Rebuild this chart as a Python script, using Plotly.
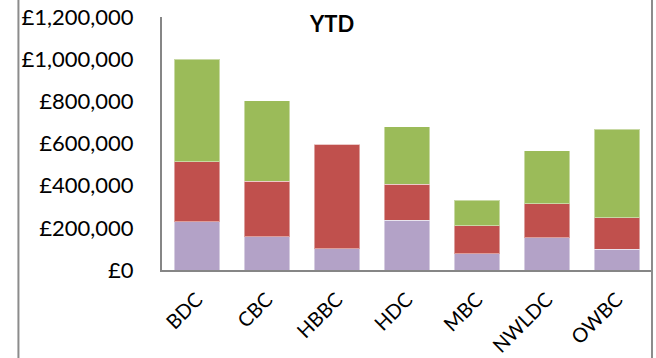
import plotly.graph_objects as go

# Regions along the category axis
categories = ["BDC", "CBC", "HBBC", "HDC", "MBC", "NWLDC", "OWBC"]

# Year-to-date amounts (GBP) for each stacked segment, bottom to top
series_1 = [229000, 158000, 100000, 237000, 77000, 152000, 98000]
series_2 = [285000, 264000, 496000, 169000, 133000, 163000, 150000]
series_3 = [485000, 380000, 0, 273000, 122000, 250000, 419000]

y_ticks = [0, 200000, 400000, 600000, 800000, 1000000, 1200000]
y_tick_labels = ["£{:,}".format(v) for v in y_ticks]

FONT = "Lato, Calibri, Arial, sans-serif"
AXIS_GREY = "#868686"

fig = go.Figure()
for name, vals, colour in [
    ("Series 1", series_1, "#B3A2C7"),
    ("Series 2", series_2, "#C0504D"),
    ("Series 3", series_3, "#9BBB59"),
]:
    fig.add_trace(go.Bar(
        x=categories, y=vals, name=name,
        marker=dict(color=colour, line=dict(color="rgba(255,255,255,0.45)", width=1)),
    ))

fig.update_layout(
    barmode="stack",
    bargap=0.35,
    width=656, height=358,
    margin=dict(l=162, r=4, t=17, b=88),
    paper_bgcolor="white",
    plot_bgcolor="white",
    showlegend=False,
    font=dict(family=FONT, size=22, color="black"),
    xaxis=dict(
        showline=True, linecolor=AXIS_GREY, linewidth=2,
        showgrid=False, ticks="", tickangle=-45, automargin=False,
        tickfont=dict(size=20), ticklabelstandoff=8,
    ),
    yaxis=dict(
        range=[0, 1200000], tickvals=y_ticks, ticktext=y_tick_labels,
        showline=True, linecolor=AXIS_GREY, linewidth=2, automargin=False,
        showgrid=False, ticks="", zeroline=False,
        tickfont=dict(size=22), ticklabelstandoff=22,
    ),
    annotations=[dict(
        text="<b>YTD</b>", x=0.345, y=0.976, xref="paper", yref="paper",
        xanchor="center", yanchor="middle", showarrow=False,
        font=dict(family=FONT, size=22, color="black"),
    )],
    shapes=[
        # chart frame edges
        dict(type="line", xref="paper", yref="paper", x0=-0.293, x1=-0.293,
             y0=-0.36, y1=1.08, line=dict(color="#8C8C8C", width=2)),
        dict(type="line", xref="paper", yref="paper", x0=1.0, x1=1.0,
             y0=-0.36, y1=1.08, line=dict(color="#8C8C8C", width=2)),
    ],
)

fig.write_html("out.html")
